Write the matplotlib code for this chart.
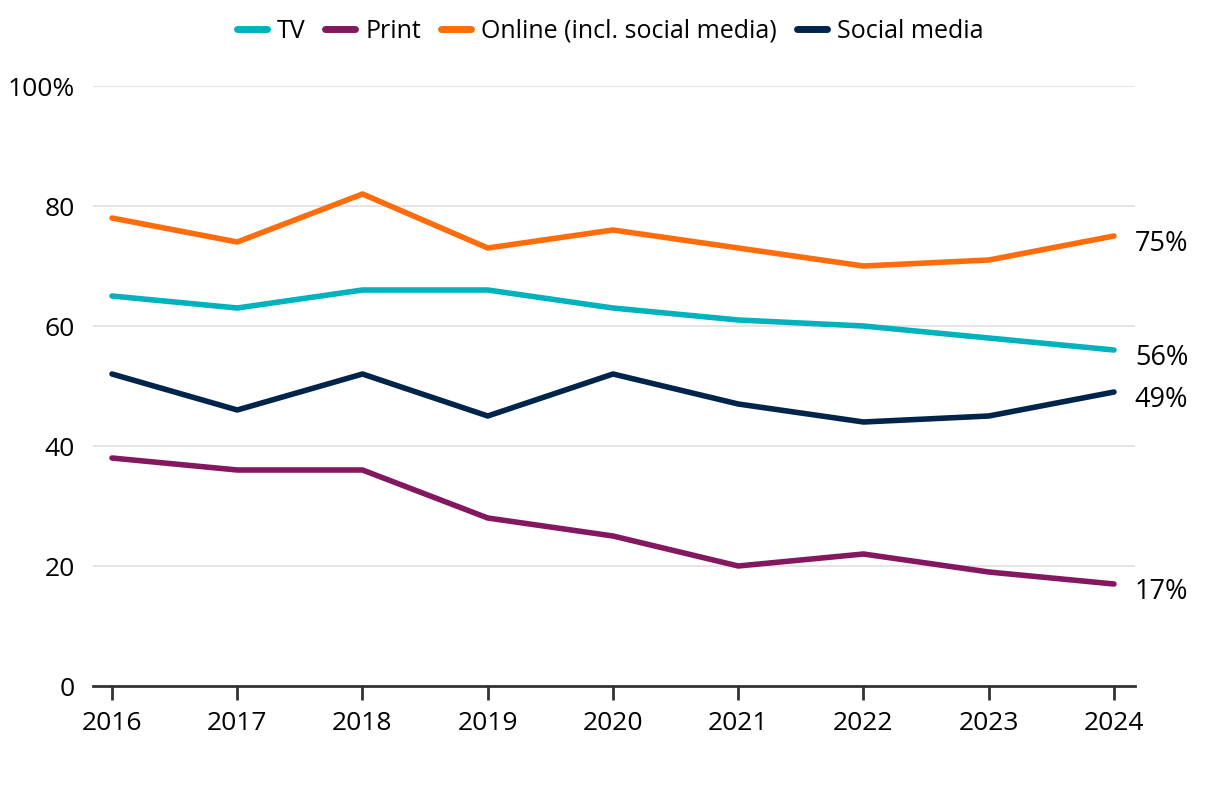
import matplotlib.pyplot as plt
from matplotlib.lines import Line2D

years = [2016, 2017, 2018, 2019, 2020, 2021, 2022, 2023, 2024]
tv = [65, 63, 66, 66, 63, 61, 60, 58, 56]
print_ = [38, 36, 36, 28, 25, 20, 22, 19, 17]
online = [78, 74, 82, 73, 76, 73, 70, 71, 75]
social = [52, 46, 52, 45, 52, 47, 44, 45, 49]

names = ['TV', 'Print', 'Online (incl. social media)', 'Social media']
colors = ['#00B2BD', '#831860', '#FF6C0C', '#00244A']
series = [tv, print_, online, social]

plt.rcParams['font.family'] = ['Open Sans', 'DejaVu Sans']
plt.rcParams['font.size'] = 18

fig = plt.figure(figsize=(12.2, 7.92), dpi=100)
ax = fig.add_axes([93 / 1220, 106 / 792, 1042 / 1220, 600 / 792])

for vals, c in zip(series, colors):
    ax.plot(years, vals, color=c, lw=4, solid_capstyle='round',
            solid_joinstyle='round', clip_on=False, zorder=3)

ax.set_ylim(0, 100)
ax.set_xlim(2016 - 19 / 125.25, 2024 + 21 / 125.25)
ax.set_yticks([0, 20, 40, 60, 80, 100])
ax.set_yticklabels(['0', '20', '40', '60', '80', '100%'])
ax.set_xticks(years)
ax.yaxis.grid(True, color='#e0e0e0', lw=1.2)
ax.set_axisbelow(True)
for s in ['top', 'right', 'left']:
    ax.spines[s].set_visible(False)
ax.spines['bottom'].set_color('#333333')
ax.spines['bottom'].set_linewidth(2)
ax.tick_params(axis='y', length=0, pad=13, labelsize=19)
ax.tick_params(axis='x', length=10, width=2, color='#333333', pad=8, labelsize=19)

# end labels
end_labels = [(online, '75%'), (tv, '56%'), (social, '49%'), (print_, '17%')]
for vals, txt in end_labels:
    ax.annotate(txt, xy=(years[-1], vals[-1]), xytext=(15, -6),
                textcoords='offset points', va='center', ha='left', fontsize=19.5)

handles = [Line2D([0], [0], color=c, lw=5, solid_capstyle='round') for c in colors]
fig.legend(handles, names, loc='upper center', bbox_to_anchor=(0.5, 1.005),
           ncol=4, frameon=False, handlelength=1.2, handletextpad=0.4,
           columnspacing=0.8, fontsize=18)

fig.savefig('out.png', dpi=100)
